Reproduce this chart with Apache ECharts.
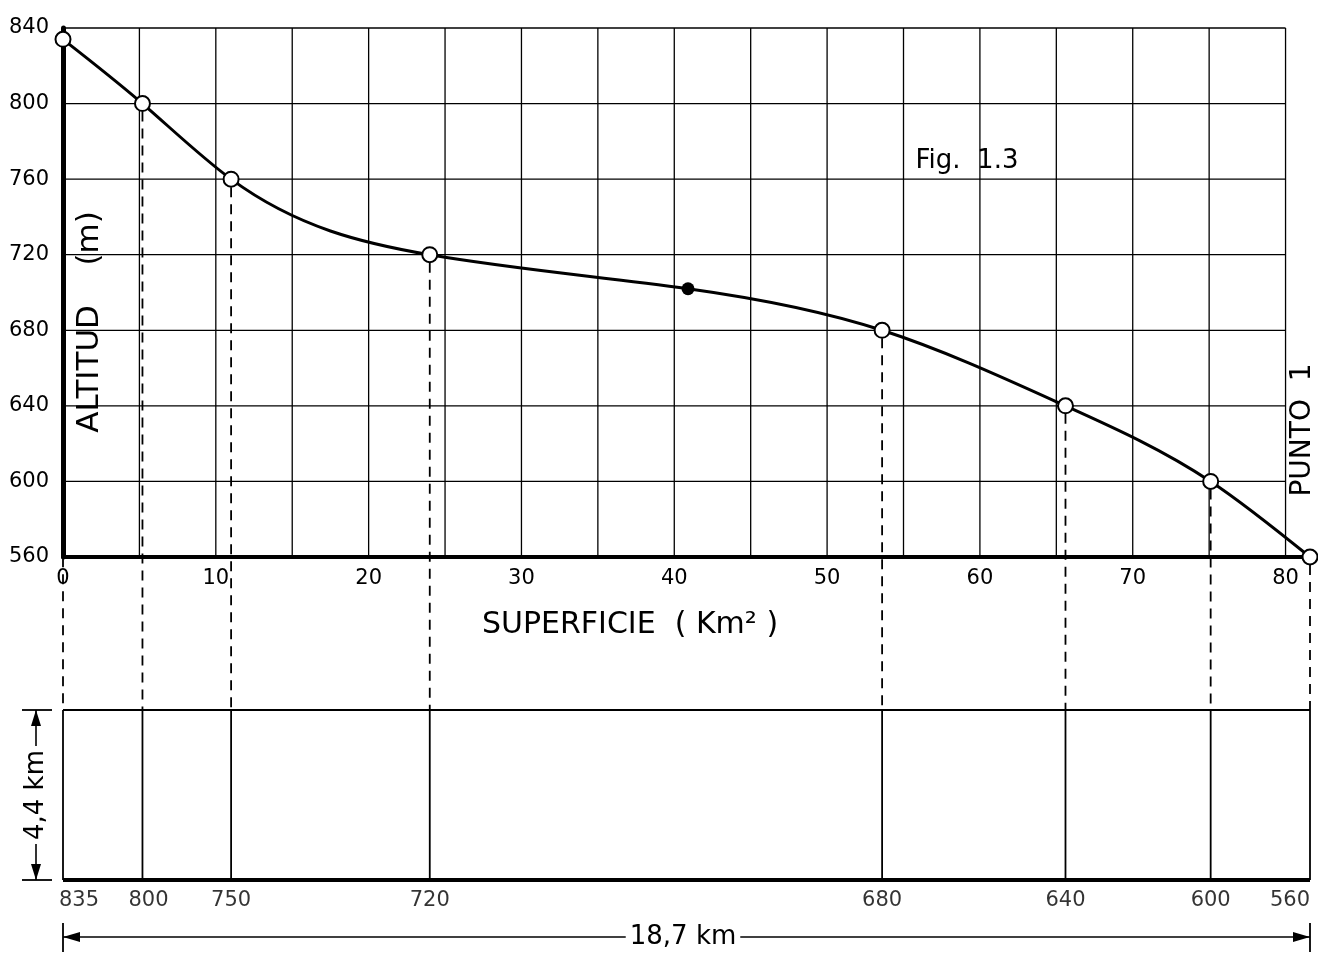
<!DOCTYPE html>
<html><head><meta charset="utf-8">
<script src="https://cdn.jsdelivr.net/npm/echarts@6/dist/echarts.min.js"></script>
<style>html,body{margin:0;padding:0;background:#fff}#c{width:1318px;height:964px}</style>
</head><body><div id="c"></div>
<script>
// Data
const superficie = [0, 5.2, 11.0, 24.0, 40.9, 53.6, 65.6, 75.1, 81.6];   // Km2
const altitud    = [834, 800, 760, 720, 702, 680, 640, 600, 560];        // m
const puntoAbierto = [true, true, true, true, false, true, true, true, true];
const etiquetasInferiores = ['835', '800', '750', '720', '', '680', '640', '600', '560'];
const xTickLabels = [0, 10, 20, 30, 40, 50, 60, 70, 80];
const xGridLines = [0, 5, 10, 15, 20, 25, 30, 35, 40, 45, 50, 55, 60, 65, 70, 75, 80];
const yTickLabels = [560, 600, 640, 680, 720, 760, 800, 840];
const anchoKm = '18,7 km';
const altoKm = 4.4;

const FONT = 'DejaVu Sans';
const chart = echarts.init(document.getElementById('c'), null, {renderer: 'canvas'});

const curva = superficie.map((x, i) => [x, altitud[i]]);
const abiertos = curva.filter((p, i) => puntoAbierto[i]);
const cerrados = curva.filter((p, i) => !puntoAbierto[i]);
const xMax = superficie[superficie.length - 1];
const xGridMax = xGridLines[xGridLines.length - 1];
const yLo = yTickLabels[0], yHi = yTickLabels[yTickLabels.length - 1];

// upper grid lines: [x1,y1,x2,y2,width]
const rejilla = [];
xGridLines.forEach(x => rejilla.push([x, yLo, x, yHi, 1.3]));
yTickLabels.forEach(y => rejilla.push([0, y, xGridMax, y, 1.3]));

// lower panel segments
const segmentos = [];
superficie.forEach((x, i) => { if (puntoAbierto[i]) segmentos.push([x, 0, x, altoKm, 1.8]); });
segmentos.push([0, altoKm, xMax, altoKm, 2]);
segmentos.push([0, 0, xMax, 0, 4]);

const etiquetasData = [];
superficie.forEach((x, i) => {
  if (!puntoAbierto[i]) return;
  let off = 0;
  if (i === 0) off = 16;
  else if (i === superficie.length - 1) off = -20;
  else if (i === 1) off = 6;
  etiquetasData.push({value: [x, 0], name: etiquetasInferiores[i], label: {offset: [off, 0]}});
});

const segRender = (params, api) => {
  const p1 = api.coord([api.value(0), api.value(1)]);
  const p2 = api.coord([api.value(2), api.value(3)]);
  return {type: 'line', shape: {x1: p1[0], y1: p1[1], x2: p2[0], y2: p2[1]},
          style: {stroke: '#000', lineWidth: api.value(4)}};
};

// natural cubic spline (in x) through pixel points, as Bezier path
function splinePath(pts) {
  const n = pts.length, h = [], a = [], b = [], c = [], r = [];
  for (let i = 0; i < n - 1; i++) h[i] = pts[i + 1][0] - pts[i][0];
  // solve for second derivatives M
  const M = new Array(n).fill(0);
  const sz = n - 2;
  for (let k = 0; k < sz; k++) {
    const i = k + 1;
    a[k] = h[i - 1]; b[k] = 2 * (h[i - 1] + h[i]); c[k] = h[i];
    r[k] = 6 * ((pts[i + 1][1] - pts[i][1]) / h[i] - (pts[i][1] - pts[i - 1][1]) / h[i - 1]);
  }
  for (let k = 1; k < sz; k++) {
    const w = a[k] / b[k - 1];
    b[k] -= w * c[k - 1]; r[k] -= w * r[k - 1];
  }
  const sol = new Array(sz);
  for (let k = sz - 1; k >= 0; k--) sol[k] = (r[k] - (k < sz - 1 ? c[k] * sol[k + 1] : 0)) / b[k];
  for (let k = 0; k < sz; k++) M[k + 1] = sol[k];
  let d = 'M' + pts[0][0] + ' ' + pts[0][1];
  for (let i = 0; i < n - 1; i++) {
    const y0 = pts[i][1], y1 = pts[i + 1][1], hi = h[i];
    const s0 = (y1 - y0) / hi - hi * (2 * M[i] + M[i + 1]) / 6;
    const s1 = (y1 - y0) / hi + hi * (M[i] + 2 * M[i + 1]) / 6;
    const k3 = hi / 3;
    d += ' C' + (pts[i][0] + k3) + ' ' + (y0 + s0 * k3) + ' ' +
         (pts[i + 1][0] - k3) + ' ' + (y1 - s1 * k3) + ' ' + pts[i + 1][0] + ' ' + y1;
  }
  return d;
}

const option = {
  animation: false,
  backgroundColor: '#fff',
  grid: [
    {left: 63, right: 8, top: 28, bottom: 407},
    {left: 63, right: 8, top: 710, bottom: 84}
  ],
  xAxis: [
    {gridIndex: 0, type: 'value', min: 0, max: xMax, interval: 5,
     axisLine: {onZero: false, lineStyle: {color: '#000', width: 4}},
     axisTick: {show: false},
     axisLabel: {color: '#000', fontSize: 21, fontFamily: FONT, margin: 11,
                 formatter: v => xTickLabels.includes(v) ? String(v) : ''},
     splitLine: {show: false}},
    {gridIndex: 1, type: 'value', min: 0, max: xMax, show: false}
  ],
  yAxis: [
    {gridIndex: 0, type: 'value', min: yLo, max: yHi, interval: 40,
     axisLine: {show: true, onZero: false, lineStyle: {color: '#000', width: 5}},
     axisTick: {show: false},
     axisLabel: {color: '#000', fontSize: 21, fontFamily: FONT, margin: 14,
                 formatter: v => yTickLabels.includes(v) ? String(v) : ''},
     splitLine: {show: false}},
    {gridIndex: 1, type: 'value', min: 0, max: altoKm, show: false}
  ],
  series: [
    {type: 'custom', xAxisIndex: 0, yAxisIndex: 0, data: rejilla, renderItem: segRender, z: 1, silent: true},
    {type: 'custom', name: 'curva hipsométrica', xAxisIndex: 0, yAxisIndex: 0, data: curva, clip: false, z: 4,
     renderItem: (params, api) => {
       if (params.dataIndex !== 0) return null;
       const pts = curva.map(p => api.coord(p));
       return {type: 'path', shape: {pathData: splinePath(pts)},
               style: {stroke: '#000', lineWidth: 3, fill: null}};
     }},
    {type: 'scatter', xAxisIndex: 0, yAxisIndex: 0, data: abiertos, symbol: 'circle', symbolSize: 15,
     clip: false, itemStyle: {color: '#fff', borderColor: '#000', borderWidth: 2, opacity: 1}, z: 6},
    {type: 'scatter', xAxisIndex: 0, yAxisIndex: 0, data: cerrados, symbol: 'circle', symbolSize: 13,
     clip: false, itemStyle: {color: '#000', opacity: 1}, z: 6},
    {type: 'custom', xAxisIndex: 1, yAxisIndex: 1, data: segmentos, clip: false, renderItem: segRender, z: 3},
    {type: 'scatter', xAxisIndex: 1, yAxisIndex: 1, data: etiquetasData, symbolSize: 0, clip: false,
     label: {show: true, position: 'bottom', distance: 10, color: '#000', fontSize: 21, fontFamily: FONT,
             formatter: p => p.name}}
  ]
};
chart.setOption(option);

// Decorations computed through the library's scales
const g = [];
const yRectTop = chart.convertToPixel({xAxisIndex: 1, yAxisIndex: 1}, [0, altoKm])[1];
const yRectBot = chart.convertToPixel({xAxisIndex: 1, yAxisIndex: 1}, [0, 0])[1];
const xLeft = chart.convertToPixel({xAxisIndex: 1, yAxisIndex: 1}, [0, 0])[0];
const xRight = chart.convertToPixel({xAxisIndex: 1, yAxisIndex: 1}, [xMax, 0])[0];
superficie.forEach((x, i) => {
  if (!puntoAbierto[i]) return;
  const p = chart.convertToPixel({xAxisIndex: 0, yAxisIndex: 0}, [x, altitud[i]]);
  g.push({type: 'line', shape: {x1: p[0], y1: p[1] + 8, x2: p[0], y2: yRectTop},
          style: {stroke: '#000', lineWidth: 1.8, lineDash: [10, 7]}, z: 2});
});

// 18,7 km dimension
const yDim = 937;
g.push({type: 'line', shape: {x1: xLeft, y1: yDim, x2: xRight, y2: yDim}, style: {stroke: '#000', lineWidth: 1.6}});
g.push({type: 'line', shape: {x1: xLeft, y1: yDim - 14, x2: xLeft, y2: yDim + 15}, style: {stroke: '#000', lineWidth: 1.8}});
g.push({type: 'line', shape: {x1: xRight, y1: yDim - 14, x2: xRight, y2: yDim + 15}, style: {stroke: '#000', lineWidth: 1.8}});
g.push({type: 'polygon', shape: {points: [[xLeft, yDim], [xLeft + 17, yDim - 5], [xLeft + 17, yDim + 5]]}, style: {fill: '#000'}});
g.push({type: 'polygon', shape: {points: [[xRight, yDim], [xRight - 17, yDim - 5], [xRight - 17, yDim + 5]]}, style: {fill: '#000'}});
g.push({type: 'text', x: 683, y: yDim, style: {text: anchoKm, fill: '#000',
        font: '26px "DejaVu Sans"', align: 'center', verticalAlign: 'middle', backgroundColor: '#fff', padding: [0, 4]}, z: 10});

// 4,4 km dimension
const xDim = 36;
g.push({type: 'line', shape: {x1: xDim, y1: yRectTop, x2: xDim, y2: yRectBot}, style: {stroke: '#000', lineWidth: 1.6}});
g.push({type: 'line', shape: {x1: 22, y1: yRectTop, x2: 52, y2: yRectTop}, style: {stroke: '#000', lineWidth: 1.8}});
g.push({type: 'line', shape: {x1: 22, y1: yRectBot, x2: 52, y2: yRectBot}, style: {stroke: '#000', lineWidth: 1.8}});
g.push({type: 'polygon', shape: {points: [[xDim, yRectTop], [xDim - 5, yRectTop + 16], [xDim + 5, yRectTop + 16]]}, style: {fill: '#000'}});
g.push({type: 'polygon', shape: {points: [[xDim, yRectBot], [xDim - 5, yRectBot - 16], [xDim + 5, yRectBot - 16]]}, style: {fill: '#000'}});
g.push({type: 'text', x: xDim, y: (yRectTop + yRectBot) / 2, rotation: Math.PI / 2,
        style: {text: altoKm.toString().replace('.', ',') + ' km', fill: '#000', font: '26px "DejaVu Sans"',
                align: 'center', verticalAlign: 'middle', backgroundColor: '#fff', padding: [0, 4]}, z: 10});

// Titles / labels
g.push({type: 'text', x: 90, y: 322, rotation: Math.PI / 2,
        style: {text: 'ALTITUD    (m)', fill: '#000', font: '31px "DejaVu Sans"', align: 'center', verticalAlign: 'middle'}, z: 10});
g.push({type: 'text', x: 630, y: 625,
        style: {text: 'SUPERFICIE  ( Km² )', fill: '#000', font: '30px "DejaVu Sans"', align: 'center', verticalAlign: 'middle'}, z: 10});
g.push({type: 'text', x: 967, y: 161,
        style: {text: 'Fig.  1.3', fill: '#000', font: '26px "DejaVu Sans"', align: 'center', verticalAlign: 'middle'}, z: 10});
g.push({type: 'text', x: 1303, y: 430, rotation: Math.PI / 2,
        style: {text: 'PUNTO  1', fill: '#000', font: '28px "DejaVu Sans"', align: 'center', verticalAlign: 'middle'}, z: 10});

chart.setOption({graphic: {elements: g}});
</script>
</body></html>
